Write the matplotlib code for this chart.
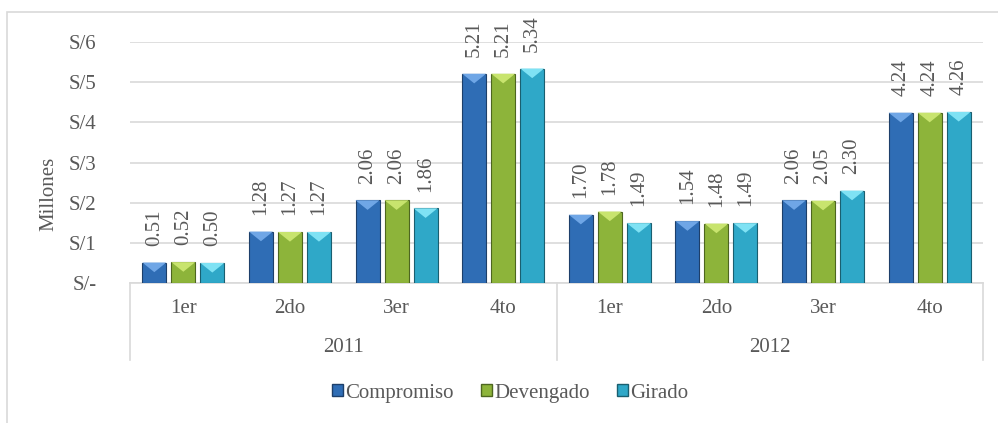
import numpy as np
import matplotlib
matplotlib.use("Agg")
import matplotlib.pyplot as plt
from matplotlib.patches import Polygon, Rectangle, Patch
from matplotlib.transforms import blended_transform_factory

plt.rcParams.update({"font.family": "Liberation Serif", "font.size": 15})
GREY = "#595959"; GRID = "#d9d9d9"

quarters = ["1er", "2do", "3er", "4to", "1er", "2do", "3er", "4to"]
years = ["2011", "2012"]
series = ["Compromiso", "Devengado", "Girado"]
compromiso = [0.51, 1.28, 2.06, 5.21, 1.70, 1.54, 2.06, 4.24]
devengado = [0.52, 1.27, 2.06, 5.21, 1.78, 1.48, 2.05, 4.24]
girado = [0.50, 1.27, 1.86, 5.34, 1.49, 1.49, 2.30, 4.26]
yticks = [0, 1, 2, 3, 4, 5, 6]
ytick_labels = ["S/-", "S/1", "S/2", "S/3", "S/4", "S/5", "S/6"]

# main color, light bevel, dark edge
colors = [("#2F6DB5", "#6FA6E6", "#1D3F6A"),
          ("#8DB43A", "#C8E46E", "#4D6620"),
          ("#2FA8C8", "#7FE2F4", "#1A5F70")]

fig = plt.figure(figsize=(9.98, 4.23), dpi=100)
W, H = 998, 423
ax = fig.add_axes([130 / W, 1 - 283 / H, 853 / W, 241 / H])

# outer chart frame
fig.patches.append(Rectangle((7 / W, -0.05), 1.05, 1 - 12 / H + 0.05, transform=fig.transFigure,
                             fill=False, edgecolor=GRID, lw=1.2))

x = np.arange(len(quarters))
bw, step = 0.225, 0.272
bevel = 0.24
for k, (vals, (c, cl, ce)) in enumerate(zip([compromiso, devengado, girado], colors)):
    xs = x + (k - 1) * step
    ax.bar(xs, vals, bw, color=c, edgecolor=ce, lw=0.8, zorder=3)
    for xi, v in zip(xs, vals):
        x0, x1 = xi - bw / 2, xi + bw / 2
        ax.add_patch(Polygon([(x0, v), (x1, v), (xi, v - bevel)], closed=True,
                             facecolor=cl, edgecolor="none", zorder=4))
        ax.annotate(f"{v:.2f}", (xi, v), xytext=(0, 12), textcoords="offset points",
                    rotation=90, ha="center", va="bottom", color=GREY, fontsize=15)

ax.set_xlim(-0.5, len(quarters) - 0.5)
ax.set_ylim(0, 6)
ax.set_yticks(yticks, ytick_labels)
ax.set_xticks([])
ax.tick_params(axis="y", length=0, pad=24, colors=GREY)
ax.grid(axis="y", color=GRID, lw=1.2, zorder=0)
for s in ["left", "right", "top"]:
    ax.spines[s].set_visible(False)
ax.spines["bottom"].set_color(GRID); ax.spines["bottom"].set_linewidth(1.2)
ax.set_ylabel("Millones", color=GREY)
ax.yaxis.set_label_coords(-0.084, 0.37)

# two-level category axis
tr = blended_transform_factory(ax.transData, ax.transAxes)
for xi, q in zip(x, quarters):
    ax.text(xi, -0.104, q, transform=tr, ha="center", va="center", color=GREY)
for i, yr in enumerate(years):
    ax.text(i * 4 + 1.5, -0.266, yr, transform=tr, ha="center", va="center", color=GREY)
for xb in [-0.5, 3.5, 7.5]:
    ax.plot([xb, xb], [0, -0.32], transform=tr, color=GRID, lw=1.2, clip_on=False)

handles = [Patch(facecolor=c, edgecolor=ce, label=s) for s, (c, cl, ce) in zip(series, colors)]
fig.legend(handles=handles, loc="center", bbox_to_anchor=(0.511, 1 - 393 / H), ncol=3, frameon=False,
           handlelength=0.55, handleheight=0.55, handletextpad=0.1, columnspacing=1.3,
           labelcolor=GREY, fontsize=15)

fig.savefig("out.png", dpi=100)
